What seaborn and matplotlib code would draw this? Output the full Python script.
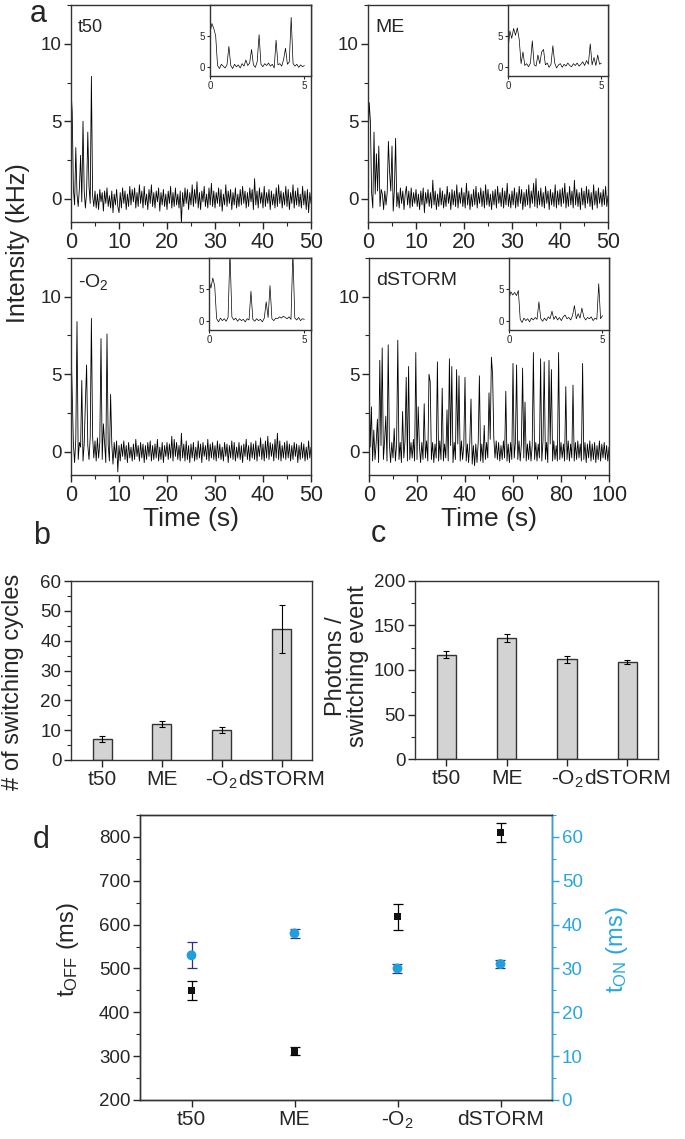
import numpy as np
import pandas as pd
import matplotlib.pyplot as plt
import seaborn as sns
from matplotlib.ticker import MultipleLocator

# ---- data ----
# a) intensity traces (kHz), evenly sampled over the window
t50_trace = [
    7.0, 5.6, 0.6, -0.4, 3.3, 0.3, -0.5, 0.7, 2.8, -0.2, 5.0, 0.5, -0.6, 0.4, 4.3, 0.8, -0.3, 7.9, 0.2, -0.5,
    0.5, -0.6, 0.3, -0.7, 0.6, -0.2, 0.4, -0.8, 0.5, -0.3, 0.7, -0.5, 0.2, -0.6, 0.5, -0.9, 0.3, -0.4, 0.6, -0.5,
    -0.9, 0.4, -0.6, 0.7, -0.3, 0.5, -0.7, 0.3, -0.5, 0.8, -0.4, 0.6, -0.2, 0.7, -0.6, 0.4, -0.5, 0.9, -0.3, 0.5,
    -0.6, 0.8, -0.4, 0.3, -0.7, 0.6, -0.3, 0.9, -0.5, 0.4, -0.6, 0.5, -0.2, 0.7, -0.8, 0.4, -0.4, 0.6, -0.5, 0.3,
    -0.7, 0.5, -0.3, 0.8, -0.6, 0.4, -0.5, 0.7, -0.4, 0.3, -0.6, 0.5, -1.6, 0.4, -0.5, 0.7, -0.3, 0.6, -0.7, 0.4,
    -0.4, 0.9, -0.5, 0.6, -0.3, 1.1, -0.6, 0.4, -0.7, 0.5, -0.2, 0.8, -0.5, 0.3, -0.6, 0.7, -0.4, 1.0, -0.5, 0.5,
    -0.6, 0.4, -0.3, 0.7, -0.5, 0.6, -0.8, 0.3, -0.4, 0.9, -0.5, 0.5, -0.3, 0.6, -0.7, 0.4, -0.4, 0.7, -0.6, 0.3,
    -0.5, 0.6, -0.4, 0.8, -0.3, 0.5, -0.6, 0.4, -0.5, 0.7, -0.2, 0.6, -0.7, 1.3, -0.4, 0.5, -0.6, 0.7, -0.3, 0.4,
    -0.6, 0.8, -0.5, 0.4, -0.3, 0.6, -0.7, 0.5, -0.4, 0.3, -0.6, 0.7, -0.5, 0.9, -0.3, 0.5, -0.6, 0.4, -0.4, 0.8,
    -0.5, 0.6, -0.7, 0.4, -0.3, 0.9, -0.6, 0.5, -0.4, 0.7, -0.5, 0.3, -0.6, 0.8, -0.4, 0.5, -0.7, 0.6, -0.9, 0.4,
    -0.3,
]
me_trace = [
    3.5, 6.2, 5.0, 0.4, -0.6, 4.3, 0.3, 2.9, 0.5, 3.4, -0.5, 0.6, 0.3, -0.7, 0.5, -0.4, 0.4, 3.7, 1.7, 0.5,
    3.4, -0.8, 0.6, 3.9, -0.5, 0.4, -0.6, 0.7, -0.3, 0.5, -0.7, 0.3, 0.8, -0.4, 0.5, -0.6, 0.7, -0.5, 0.4, -0.3,
    0.6, -0.5, 0.3, -0.7, 0.5, -0.4, 0.7, -0.9, 0.4, -0.3, 0.6, -0.5, 0.4, -0.6, 1.2, -0.4, 0.5, -0.7, 0.3, -0.5,
    0.7, -0.4, 0.5, -0.6, 0.3, -0.5, 0.8, -0.3, 0.4, -0.7, 0.6, -0.4, 0.5, -0.5, 0.9, -0.6, 0.4, -0.3, 0.7, -0.5,
    0.4, -0.6, 1.0, -0.4, 0.5, -0.7, 0.3, -0.5, 0.6, -0.4, 0.8, -0.6, 0.4, -0.3, 0.7, -0.5, 0.5, -0.6, 0.9, -0.4,
    0.6, -0.5, 0.3, -0.7, 0.5, -0.4, 0.6, -0.6, 0.8, -0.3, 0.4, -0.5, 0.7, -0.6, 0.5, -0.4, 1.0, -0.5, 0.3, -0.6,
    0.5, -0.4, 0.7, -0.6, 0.4, -0.5, 0.8, -0.3, 0.6, -0.7, 0.4, -0.5, 0.6, -0.4, 0.9, -0.6, 0.5, -0.3, 1.0, -0.5,
    1.3, -0.6, 0.5, -0.4, 0.7, -0.5, 0.4, -0.6, 0.8, -0.3, 0.5, -0.7, 0.6, -0.4, 0.4, -0.5, 0.9, -0.6, 0.5, -0.4,
    0.6, -0.5, 0.7, -0.3, 1.0, -0.6, 0.4, -0.5, 0.8, -0.4, 0.5, -0.6, 1.2, -0.4, 0.6, -0.5, 0.4, -0.7, 0.7, -0.4,
    0.5, -0.6, 0.8, -0.3, 0.6, -0.5, 0.4, -0.7, 0.9, -0.4, 0.5, -0.6, 0.7, -0.3, 0.4, -0.5, 0.6, -0.4, 0.8, -0.5,
    0.2,
]
o2_trace = [
    6.8, 3.8, 0.5, -0.7, 0.8, 8.4, -0.5, 0.6, 0.3, 4.6, -0.6, 0.5, 3.2, 5.6, 0.4, -0.5, 0.9, 8.6, 1.0, -0.4,
    0.7, -0.6, 0.9, -0.4, 0.6, 7.3, -0.5, 1.8, 0.5, -0.7, 7.6, 0.4, -0.6, 3.7, 0.5, -0.8, 0.6, -0.4, 0.7, -1.3,
    0.4, -0.6, 0.5, -0.3, 0.7, -0.5, 0.4, -0.7, 0.6, -0.4, 0.3, -0.6, 0.5, -0.5, 0.8, -0.3, 0.4, -0.6, 0.6, -0.4,
    0.5, -0.7, 0.4, -0.5, 0.6, -0.3, 0.7, -0.6, 0.4, -0.5, 0.5, -0.4, 0.8, -0.6, 0.3, -0.5, 0.6, -0.7, 0.4, -0.3,
    0.6, -0.5, 0.5, -0.4, 1.0, -0.6, 0.8, -0.3, 0.6, -0.5, 0.4, -0.6, 1.2, -0.4, 0.5, -0.6, 0.7, -0.5, 0.4, -0.7,
    0.5, -0.4, 0.6, -0.6, 0.3, -0.5, 0.7, -0.4, 0.5, -0.7, 0.6, -0.3, 0.4, -0.5, 0.8, -0.6, 0.5, -0.4, 0.6, -0.5,
    0.4, -0.6, 0.7, -0.4, 0.5, -0.5, 0.3, -0.6, 0.6, -0.3, 0.5, -0.7, 0.4, -0.4, 0.7, -0.5, 0.6, -0.6, 0.3, -0.4,
    0.6, -0.5, 0.4, -0.7, 0.5, -0.3, 0.8, -0.5, 0.4, -0.6, 0.6, -0.4, 0.5, -0.5, 0.7, -0.6, 0.4, -0.3, 0.9, -0.5,
    0.5, -0.6, 0.7, -0.4, 1.0, -0.5, 0.6, -0.3, 0.5, -0.6, 0.8, -0.4, 1.2, -0.5, 0.7, -0.6, 0.4, -0.4, 0.6, -0.5,
    0.7, -0.4, 0.5, -0.6, 0.4, -0.5, 0.6, -0.3, 0.5, -0.7, 0.4, -0.5, 0.6, -0.4, 0.5, -0.6, 0.3, -0.5, 0.7, -0.4,
    0.3,
]
dstorm_trace = [
    4.8, 0.3, 2.9, -0.6, 1.4, -0.5, 0.6, 2.1, -0.7, 5.9, 0.4, 6.7, -0.5, 0.7, 2.3, -0.6, 6.9, 0.5, -0.7, 0.6,
    -0.4, 1.5, -0.6, 0.5, 7.2, -0.5, 0.6, -0.7, 2.6, -0.4, 0.7, 4.8, -0.6, 5.5, -0.5, 0.6, -0.4, 0.8, -0.6, 6.4,
    -0.5, 2.9, 0.4, -0.7, 0.6, -0.5, 3.1, -0.4, 0.7, -0.6, 5.0, 4.5, -0.5, 0.6, -0.7, 0.5, -0.4, 5.8, -0.6, 0.7,
    -0.5, 4.1, -0.6, 0.5, -0.4, 2.7, -0.6, 6.0, 0.4, 5.5, -0.7, 0.6, -0.5, 5.3, 0.5, 4.9, -0.6, 0.7, -0.5, 0.4,
    4.8, -0.6, 0.5, -0.7, 0.6, 3.4, -0.8, 0.4, -0.9, 0.5, -0.7, 0.6, 4.9, -0.6, 0.5, -0.7, 1.7, -0.5, 0.6, -0.4,
    3.8, 0.8, 6.1, 5.0, 0.9, -0.4, 0.7, -0.5, 0.6, -0.6, 0.4, -0.5, 0.7, -0.4, 3.9, -0.6, 0.5, -0.7, 0.6, -0.5,
    5.7, -0.4, 0.6, 5.6, -0.5, 0.7, -0.6, 0.5, 5.4, -0.4, 3.2, -0.6, 0.5, -0.5, 0.7, -0.6, 0.4, 6.4, -0.5, 0.6,
    -0.6, 0.5, -0.4, 6.0, -0.6, 0.7, 5.8, -0.5, 0.6, -0.7, 5.9, 0.5, 5.3, -0.6, 0.7, -0.5, 0.4, -0.6, 6.4, -0.5,
    0.6, -0.4, 0.5, -0.6, 4.2, -0.5, 0.7, -0.6, 0.5, -0.4, 4.3, -0.6, 0.6, -0.5, 0.7, -0.4, 0.5, -0.6, 5.7, -0.5,
    0.6, -0.7, 0.5, -0.4, 0.7, -0.6, 0.5, -0.5, 0.6, -0.7, 0.4, -0.5, 0.7, -0.6, 0.5, -0.4, 0.6, -0.5, 0.4, -0.6,
    0.3,
]

# first 5 s of each trace (insets)
t50_zoom = [5.5, 7.0, 6.2, 5.0, 0.2, -0.3, 0.4, 0.1, -0.2, 0.3, 3.3, 0.2, -0.3, 0.4, 0.0, 0.3, -0.2, 0.5, 0.1, 1.1,
            0.2, 0.6, 2.8, 0.3, -0.1, 0.8, 5.2, 0.4, 0.0, 0.5, 0.2, 0.6, 0.1, 0.4, -0.2, 4.3, 0.3, 0.5, 0.1, 1.2,
            3.0, 0.4, 0.8, 8.0, 0.5, 0.1, 0.4, -0.1, 0.3, 0.0, 0.2]
me_zoom = [2.7, 5.8, 4.6, 6.2, 5.1, 6.3, 4.4, 0.5, 2.4, 0.2, 0.5, 0.0, 0.6, 4.2, 0.3, 0.1, 1.9, 0.5, 2.4, 2.8,
           0.3, 0.6, -0.1, 0.4, 3.4, 0.6, -0.2, 0.3, 0.5, -0.1, 0.4, 0.1, 0.6, 0.2, 0.0, 0.5, 0.2, 0.6, 0.1, 0.4,
           0.8, 0.2, 1.0, 0.4, 3.7, 0.3, 1.5, 0.2, 1.9, 0.4, 0.6]
o2_zoom = [6.4, 5.2, 6.8, 5.5, 0.3, -0.2, 0.4, 0.0, 0.3, -0.1, 0.5, 11.0, 0.6, 0.1, 0.4, -0.1, 0.3, 0.0, 0.2, -0.2,
           0.3, 0.1, 4.7, 0.2, -0.1, 0.3, 0.0, 0.2, -0.2, 0.4, 3.0, 0.5, 5.6, 0.3, 0.0, 0.4, 0.3, 0.6, 0.4, 0.7,
           0.5, 0.3, 0.6, 0.2, 11.0, 0.4, 0.1, 0.5, 0.0, 0.3, 0.2]
dstorm_zoom = [3.5, 4.6, 4.1, 4.5, 4.0, 4.8, 0.2, -0.3, 0.4, 0.0, 0.3, -0.2, 0.4, 0.1, 0.5, 0.2, 3.0, 0.3, -0.1, 0.4,
               0.0, 0.6, 0.3, 1.5, 0.2, 0.7, 0.1, 0.5, 0.0, 0.6, 0.9, 0.3, 0.5, 0.1, 0.8, 2.4, 0.3, 1.1, 0.4, 2.0,
               0.6, 0.1, 0.5, 0.3, 0.6, 0.0, 0.4, 0.2, 5.9, 0.3, 0.8]

conditions = ["t50", "ME", "-O$_2$", "dSTORM"]

# b) switching cycles
cycles = [7, 12, 10, 44]
cycles_err = [1, 1, 1, 8]
# c) photons per switching event
photons = [117, 136, 112, 109]
photons_err = [4, 4, 4, 2]
# d) off / on times (ms)
t_off = [450, 312, 618, 810]
t_off_err = [22, 10, 30, 22]
t_on = [33, 38, 30, 31]
t_on_err = [3, 1, 1, 1]

# ---- style ----
sns.set_theme(style="ticks")
plt.rcParams["font.family"] = ["Liberation Sans", "DejaVu Sans"]
plt.rcParams["mathtext.default"] = "regular"
plt.rcParams["axes.edgecolor"] = "#333333"
plt.rcParams["axes.linewidth"] = 1.0
plt.rcParams["xtick.direction"] = "out"
plt.rcParams["ytick.direction"] = "out"

W, H = 685, 1139
BLUE = "#1f9fdc"
AXBLUE = "#2aa6de"


def rect(x0, y0, x1, y1):
    # pixel box -> figure fraction
    return [x0 / W, 1 - y1 / H, (x1 - x0) / W, (y1 - y0) / H]


fig = plt.figure(figsize=(6.85, 11.39), dpi=100)


def style_ticks(ax, xsize=15, ysize=13.5):
    ax.tick_params(axis="x", which="major", labelsize=xsize, length=5, width=1, pad=2)
    ax.tick_params(axis="y", which="major", labelsize=ysize, length=5, width=1, pad=2)
    ax.tick_params(which="minor", length=3, width=0.8)


def trace_panel(box, vals, tmax, label, ibox, zoom_vals, xstep, xlabel=False, lsize=14):
    ax = fig.add_axes(rect(*box))
    t = np.linspace(0, tmax, len(vals))
    sns.lineplot(x=t, y=vals, ax=ax, color="black", lw=0.6, estimator=None, sort=False)
    ax.set_xlim(0, tmax)
    ax.set_ylim(-1.5, 12.5)
    ax.xaxis.set_major_locator(MultipleLocator(xstep))
    ax.xaxis.set_minor_locator(MultipleLocator(xstep / 2))
    ax.yaxis.set_major_locator(MultipleLocator(5))
    ax.yaxis.set_minor_locator(MultipleLocator(2.5))
    style_ticks(ax, 15.5, 13.5)
    ax.set_ylabel("")
    ax.set_xlabel("Time (s)" if xlabel else "", fontsize=19, labelpad=1)
    ax.text(0.03, 0.935, label, transform=ax.transAxes, ha="left", va="top", fontsize=lsize)

    ins = fig.add_axes(rect(*ibox))
    tz = np.linspace(0, 5, len(zoom_vals))
    sns.lineplot(x=tz, y=zoom_vals, ax=ins, color="black", lw=0.5, estimator=None, sort=False)
    ins.set_xlim(0, 5.35)
    ins.set_ylim(-1.5, 10)
    ins.set_xticks([0, 5])
    ins.set_yticks([0, 5])
    ins.tick_params(labelsize=7, length=2.5, width=0.8, pad=1)
    ins.set_xlabel("")
    ins.set_ylabel("")
    return ax


trace_panel((71, 5, 311, 222), t50_trace, 50, "t50", (210, 5, 311, 76), t50_zoom, 10, lsize=13)
trace_panel((368, 5, 608, 222), me_trace, 50, "ME", (508, 5, 608, 76), me_zoom, 10)
trace_panel((71, 258, 311, 475), o2_trace, 50, "-O$_2$", (209, 258, 311, 330), o2_zoom, 10, xlabel=True)
trace_panel((369, 258, 609, 475), dstorm_trace, 100, "dSTORM", (509, 258, 609, 330), dstorm_zoom, 20, xlabel=True)

fig.text(18 / W, 1 - 243 / H, "Intensity (kHz)", rotation=90, ha="center", va="center", fontsize=18)


def bar_panel(box, vals, errs, ymax, ystep):
    ax = fig.add_axes(rect(*box))
    df = pd.DataFrame({"cond": conditions, "val": vals})
    sns.barplot(data=df, x="cond", y="val", ax=ax, color="#d3d3d3", saturation=1,
                edgecolor="#333333", linewidth=1, width=0.32, errorbar=None)
    ax.errorbar(range(len(vals)), vals, yerr=errs, fmt="none", ecolor="black",
                elinewidth=0.8, capsize=2.5, capthick=0.8)
    ax.set_xlim(-0.52, 3.51)
    ax.set_ylim(0, ymax)
    ax.yaxis.set_major_locator(MultipleLocator(ystep))
    ax.yaxis.set_minor_locator(MultipleLocator(ystep / 2))
    style_ticks(ax, 15, 13.5)
    ax.set_xlabel("")
    ax.set_ylabel("")
    return ax


bar_panel((71, 581, 312, 760), cycles, cycles_err, 60, 10)
fig.text(13 / W, 1 - 682 / H, "# of switching cycles", rotation=90, ha="center", va="center", fontsize=17)

bar_panel((415, 581, 658, 759), photons, photons_err, 200, 50)
fig.text(347 / W, 1 - 666 / H, "Photons /\nswitching event", rotation=90, ha="center", va="center",
         multialignment="center", fontsize=17, linespacing=1.0)

# d) off/on times
ax = fig.add_axes(rect(140, 815, 552, 1100))
dfd = pd.DataFrame({"cond": conditions, "off": t_off, "on": t_on})
ax.errorbar(range(4), t_off, yerr=t_off_err, fmt="none", ecolor="black", elinewidth=0.9,
            capsize=3.5, capthick=0.9, zorder=2)
sns.scatterplot(data=dfd, x="cond", y="off", ax=ax, marker="s", s=28, color="#111111",
                edgecolor="none", zorder=3)
ax.set_xlim(-0.5, 3.5)
ax.set_ylim(200, 850)
ax.yaxis.set_major_locator(MultipleLocator(100))
ax.yaxis.set_minor_locator(MultipleLocator(50))
style_ticks(ax, 15, 13.5)
ax.set_xlabel("")
ax.set_ylabel("")

ax2 = ax.twinx()
ax2.errorbar(range(4), t_on, yerr=t_on_err, fmt="none", ecolor="#2e2f86", elinewidth=0.9,
             capsize=3.5, capthick=0.9, zorder=2)
sns.scatterplot(data=dfd, x="cond", y="on", ax=ax2, marker="o", s=50, color=BLUE,
                edgecolor="none", zorder=3)
ax2.set_xlim(-0.5, 3.5)
ax2.set_ylim(0, 65)
ax2.yaxis.set_major_locator(MultipleLocator(10))
ax2.yaxis.set_minor_locator(MultipleLocator(5))
ax2.tick_params(axis="y", which="major", labelsize=13.5, length=5, width=1, pad=2, colors=AXBLUE)
ax2.tick_params(axis="y", which="minor", length=3, width=0.8, colors=AXBLUE)
ax2.spines["right"].set_color(AXBLUE)
ax2.set_ylabel("")
ax2.set_xlabel("")

fig.text(68 / W, 1 - 950 / H, "t$_{OFF}$ (ms)", rotation=90, ha="center", va="center", fontsize=17)
fig.text(617 / W, 1 - 950 / H, "t$_{ON}$ (ms)", rotation=90, ha="center", va="center", fontsize=17,
         color=AXBLUE)

# panel letters
for letter, (px, py) in {"a": (38, 14), "b": (42, 536), "c": (378, 534), "d": (41, 840)}.items():
    fig.text(px / W, 1 - py / H, letter, ha="center", va="center", fontsize=22)

fig.savefig("out.png", dpi=100)
